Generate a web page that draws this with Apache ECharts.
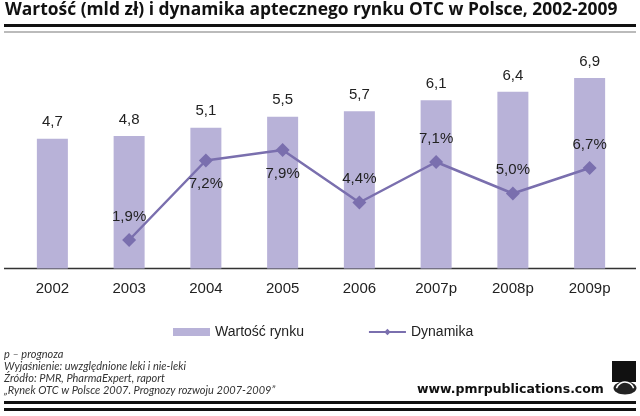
<!DOCTYPE html>
<html><head><meta charset="utf-8">
<script src="https://cdn.jsdelivr.net/npm/echarts@6/dist/echarts.min.js"></script>
<style>html,body{margin:0;padding:0;background:#fff}#c{width:640px;height:416px}</style>
</head><body><div id="c"></div>
<script>
const categories = ['2002','2003','2004','2005','2006','2007p','2008p','2009p'];
const marketValue = [4.7, 4.8, 5.1, 5.5, 5.7, 6.1, 6.4, 6.9];
const dynamics = [null, 1.9, 7.2, 7.9, 4.4, 7.1, 5.0, 6.7];
const titleText = 'Wartość (mld zł) i dynamika aptecznego rynku OTC w Polsce, 2002-2009';
const footLines = ['p – prognoza','Wyjaśnienie: uwzględnione leki i nie-leki','Źródło: PMR, PharmaExpert, raport','„Rynek OTC w Polsce 2007. Prognozy rozwoju 2007-2009”'];
const seriesNames = ['Wartość rynku','Dynamika'];

const barColor = '#b8b2d8';
const lineColor = '#7a6fae';
const labelPlacement = ['top','top','bottom','bottom','top','top','top','top'];
const fmt = v => String(v.toFixed(1)).replace('.', ',');

const chart = echarts.init(document.getElementById('c'));
chart.setOption({
  animation: false,
  backgroundColor: '#fff',
  grid: { left: 14, right: 12, top: 47.7, bottom: 147.5 },
  xAxis: {
    type: 'category', data: categories,
    axisLine: { show: false }, axisTick: { show: false },
    axisLabel: { margin: 13, fontSize: 15, color: '#222', fontFamily: 'Liberation Sans' }
  },
  yAxis: [
    { type: 'value', min: 0, max: 8, show: false, splitLine: { show: false } },
    { type: 'value', min: 0, max: 14.72, show: false, splitLine: { show: false } }
  ],
  legend: {
    left: 168, top: 320, itemWidth: 37, itemHeight: 8, itemGap: 64,
    textStyle: { fontSize: 14, color: '#222', fontFamily: 'Liberation Sans' },
    data: [
      { name: seriesNames[0], icon: 'rect' },
      { name: seriesNames[1] }
    ]
  },
  series: [
    {
      name: seriesNames[0], type: 'bar', data: marketValue, barWidth: 31,
      itemStyle: { color: barColor },
      label: { show: true, position: 'top', distance: 9, fontSize: 15, color: '#222',
        fontFamily: 'Liberation Sans', formatter: p => fmt(p.value) }
    },
    {
      name: seriesNames[1], type: 'line', yAxisIndex: 1,
      data: dynamics.map((v, i) => v == null ? null : { value: v, label: { position: labelPlacement[i] } }),
      symbol: 'diamond', symbolSize: 14, lineStyle: { color: lineColor, width: 2.5 },
      itemStyle: { color: lineColor },
      label: { show: true, distance: 9, fontSize: 15, color: '#222', fontFamily: 'Liberation Sans',
        formatter: p => fmt(p.value) + '%' }
    }
  ],
  graphic: [
    { type: 'text', left: 5, top: 2, style: { text: titleText, font: 'bold 17.4px "Open Sans"', fill: '#111' } },
    { type: 'rect', shape: { x: 4, y: 24, width: 632, height: 3 }, style: { fill: '#111' } },
    { type: 'rect', shape: { x: 4, y: 31, width: 632, height: 2 }, style: { fill: '#bbb' } },
    { type: 'line', shape: { x1: 4, y1: 268.5, x2: 636, y2: 268.5 }, style: { stroke: '#333', lineWidth: 1.5 } },
    ...footLines.map((t, i) => ({ type: 'text', left: 4, top: 349 + i * 12,
      style: { text: t, font: 'italic 11px Lato', fill: '#333' } })),
    { type: 'text', left: 417, top: 383, style: { text: 'www.pmrpublications.com', font: 'bold 12.5px "DejaVu Sans"', fill: '#111' } },
    { type: 'rect', shape: { x: 612, y: 361, width: 24, height: 21 }, style: { fill: '#111' } },
    { type: 'ellipse', shape: { cx: 625, cy: 388, rx: 11.5, ry: 6.5 }, style: { fill: '#222' } },
    { type: 'arc', shape: { cx: 625, cy: 391, r: 9, startAngle: Math.PI * 1.1, endAngle: Math.PI * 1.9 }, style: { stroke: '#fff', lineWidth: 1.5, fill: null } },
    { type: 'rect', shape: { x: 4, y: 401, width: 632, height: 3 }, style: { fill: '#111' } },
    { type: 'rect', shape: { x: 4, y: 408, width: 632, height: 3 }, style: { fill: '#111' } }
  ]
});
</script></body></html>
